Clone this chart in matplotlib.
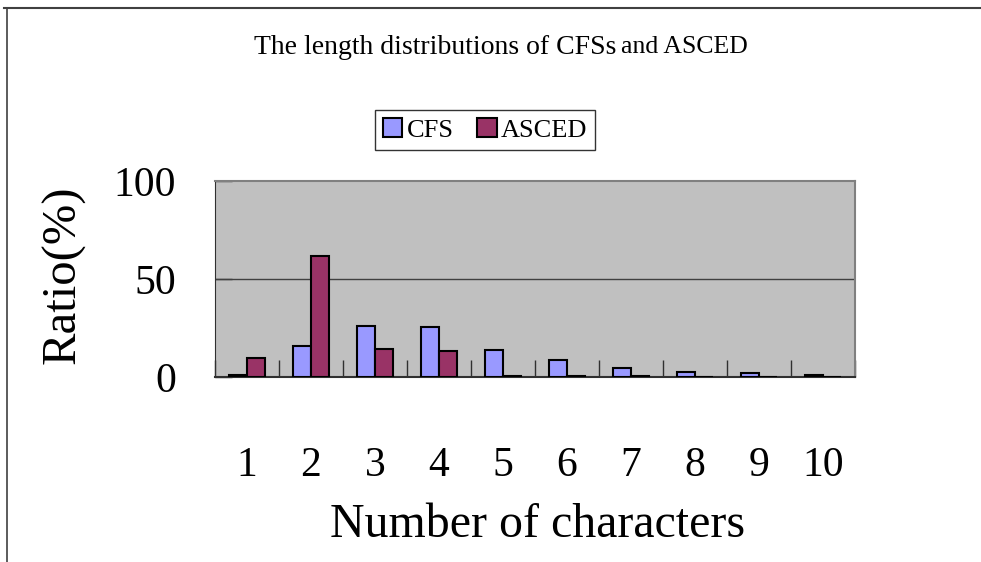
import matplotlib
matplotlib.use("Agg")
import matplotlib.pyplot as plt
from matplotlib.lines import Line2D
import numpy as np

categories = ["1", "2", "3", "4", "5", "6", "7", "8", "9", "10"]
cfs = [1.0, 15.8, 25.9, 25.5, 14.0, 8.5, 4.6, 2.7, 1.9, 1.0]
asced = [9.7, 61.7, 14.5, 13.1, 0.5, 0.5, 0.3, 0.2, 0.0, 0.0]
y_ticks = [0, 50, 100]

plt.rcParams["font.family"] = ["Liberation Serif", "DejaVu Serif"]

W, H = 981, 562
fig = plt.figure(figsize=(W / 100, H / 100), dpi=100)
ax = fig.add_axes([215 / W, 1 - 377 / H, 640 / W, 196 / H])

x = np.arange(1, len(categories) + 1)
w = 0.28
ax.bar(x - w / 2, cfs, width=w, color="#9999FF", edgecolor="black",
       linewidth=1.5, label="CFS", zorder=3)
ax.bar(x + w / 2, asced, width=w, color="#993366", edgecolor="black",
       linewidth=1.5, label="ASCED", zorder=3)

ax.set_facecolor("#C0C0C0")
ax.set_xlim(0.5, len(categories) + 0.5)
ax.set_ylim(0, 100)
ax.axhline(50, color="#404040", linewidth=1, zorder=2)

for side in ("top", "right"):
    ax.spines[side].set_color("#808080")
    ax.spines[side].set_linewidth(1.5)
ax.spines["left"].set_color("#303030")
ax.spines["bottom"].set_color("#303030")
ax.spines["bottom"].set_linewidth(1.5)

ax.set_yticks(y_ticks)
ax.set_yticklabels([str(v) for v in y_ticks], fontsize=30)
ax.tick_params(axis="y", direction="in", length=12, width=1, color="#303030", pad=28)

ax.set_xticks(x)
ax.set_xticklabels(categories, fontsize=30)
ax.tick_params(axis="x", which="major", length=0, pad=50)
ax.set_xticks(np.arange(0.5, len(categories) + 1, 1.0), minor=True)
ax.tick_params(axis="x", which="minor", direction="in", length=12, width=1, color="#303030")

ax.set_ylabel("Ratio(%)", fontsize=35)
ax.yaxis.set_label_coords(-(215 - 86) / 640, 0.52)
ax.set_xlabel("Number of characters", fontsize=34.5)
ax.xaxis.set_label_coords((538 - 215) / 640, -(503 - 377) / 196)

# Title in two runs: the tail is set a little smaller
ty = 1 - 47 / H
t1 = fig.text(0, ty, "The length distributions of CFSs", ha="left", va="center", fontsize=20)
t2 = fig.text(0, ty, "and ASCED", ha="left", va="center", fontsize=18.5)
renderer = fig.canvas.get_renderer()
w1 = t1.get_window_extent(renderer).width
w2 = t2.get_window_extent(renderer).width
gap = 5
x0 = 501 - (w1 + gap + w2) / 2
t1.set_x(x0 / W)
t2.set_x((x0 + w1 + gap) / W)

leg = fig.legend(loc="center", bbox_to_anchor=(485 / W, 1 - 130 / H), ncol=2,
                 fontsize=19, frameon=True, fancybox=False, edgecolor="black",
                 handlelength=0.75, handleheight=0.75, handletextpad=0.15,
                 columnspacing=0.9, borderpad=0.3)
leg.get_frame().set_linewidth(1)

fig.add_artist(Line2D([4 / W, 1], [1 - 7.5 / H, 1 - 7.5 / H],
                      color="#404040", linewidth=1.5, transform=fig.transFigure))
fig.add_artist(Line2D([7 / W, 7 / W], [0, 1 - 7.5 / H],
                      color="#404040", linewidth=1.2, transform=fig.transFigure))

fig.savefig("out.png", dpi=100)
